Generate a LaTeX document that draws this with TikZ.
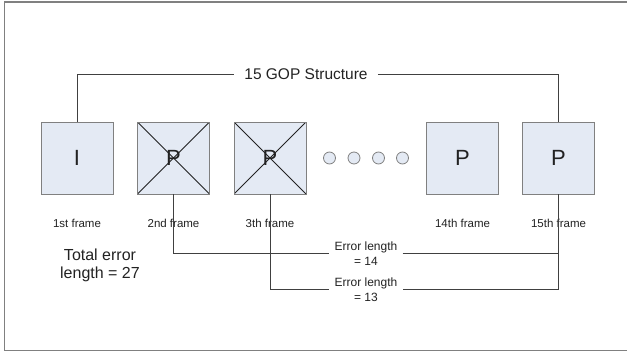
\documentclass[tikz,border=0pt]{standalone}
\usepackage{fontspec}
\setmainfont{Liberation Sans}
\definecolor{boxfill}{HTML}{E4EAF4}
\definecolor{boxline}{HTML}{808080}
\definecolor{wire}{HTML}{404040}
\definecolor{ink}{HTML}{222222}
\begin{document}
\begin{tikzpicture}[x=1pt,y=-1pt,
  frame/.style={draw=boxline,line width=0.9pt,fill=boxfill,minimum size=72pt,inner sep=0pt,
    text=ink,font=\fontsize{22}{24}\selectfont},
  crossed/.style={frame,path picture={
    \draw[ink,line width=0.8pt] (path picture bounding box.north west) -- (path picture bounding box.south east)
      (path picture bounding box.north east) -- (path picture bounding box.south west);}},
  dot/.style={circle,draw=boxline,line width=0.8pt,fill=boxfill,minimum size=12pt,inner sep=0pt},
  caption/.style={text=ink,font=\fontsize{11.5}{13}\selectfont,inner sep=0pt},
  errlabel/.style={text=ink,align=center,font=\fontsize{12}{14.5}\selectfont,inner xsep=5pt,inner ysep=0pt},
  wire/.style={draw=wire,line width=0.9pt}]
\useasboundingbox (0,0) rectangle (627,353);
% outer frame
\draw[boxline,line width=1.6pt] (4.5,1.8) rectangle (640,350.5);

% frames
\node[frame] (f1) at (77,158) {I};
\node[crossed] (f2) at (173.5,158) {P};
\node[crossed] (f3) at (270,158) {P};
\node[frame] (f14) at (462.5,158) {P};
\node[frame] (f15) at (558.5,158) {P};

% ellipsis dots
\node[dot] (d1) at (329.5,158) {};
\node[dot] (d2) at (354,158) {};
\node[dot] (d3) at (378.5,158) {};
\node[dot] (d4) at (402.5,158) {};

% frame captions
\node[caption] (c1) at (77,223) {1st frame};
\node[caption] (c2) at (173.5,223) {2nd frame};
\node[caption] (c3) at (270,223) {3th frame};
\node[caption] (c14) at (462.5,223) {14th frame};
\node[caption] (c15) at (558.5,223) {15th frame};

% GOP bracket
\node[text=ink,font=\fontsize{15.5}{17}\selectfont,inner xsep=10pt,inner ysep=0pt] (gop) at (306,74) {15 GOP Structure};
\draw[wire] (f1.north) |- (gop.west);
\draw[wire] (gop.east) -| (f15.north);

% error lengths
\node[errlabel] (e14) at (366,253.5) {Error length\\= 14};
\node[errlabel] (e13) at (366,289.5) {Error length\\= 13};
\draw[wire] (f2.south) |- (e14.west);
\draw[wire] (e14.east) -- (e14.east -| f15.south);
\draw[wire] (f3.south) |- (e13.west);
\draw[wire] (f15.south) |- (e13.east);

\node[text=ink,align=center,font=\fontsize{16}{18}\selectfont] (total) at (100,265) {Total error\\length = 27};
\end{tikzpicture}
\end{document}
